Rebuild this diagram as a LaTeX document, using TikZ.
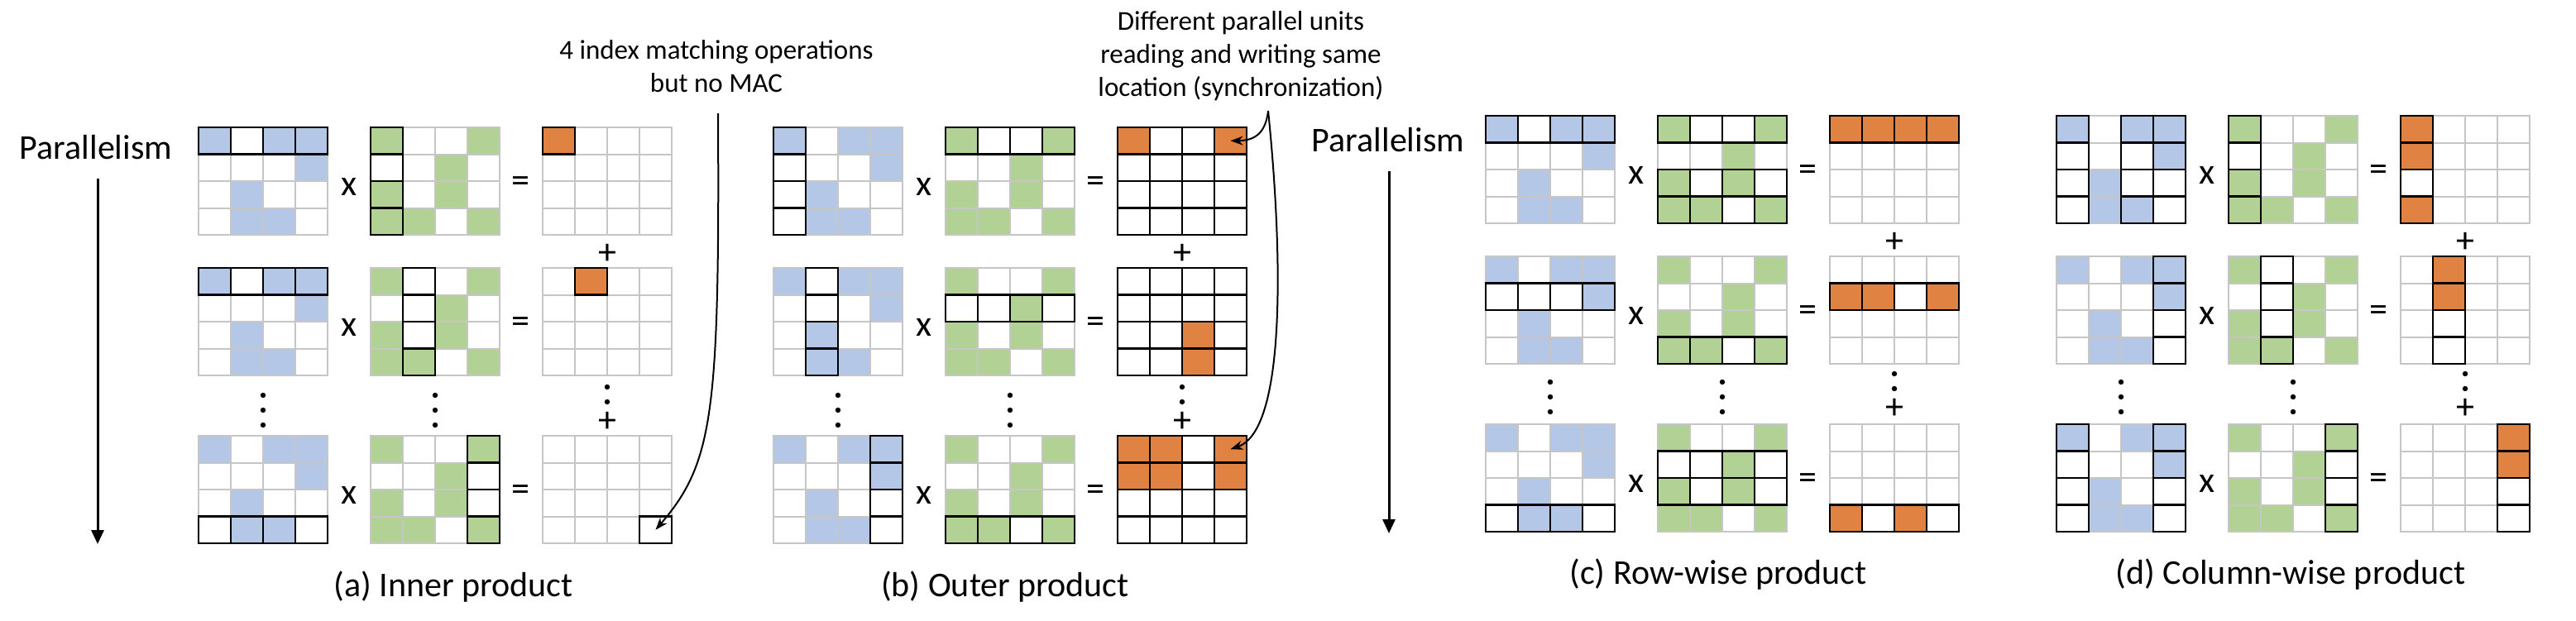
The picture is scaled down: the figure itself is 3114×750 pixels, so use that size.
\documentclass[tikz,border=0pt]{standalone}
\usepackage{fontspec}
\setmainfont{Carlito}
\usetikzlibrary{arrows.meta}

\definecolor{matblue}{RGB}{180,199,231}
\definecolor{matgreen}{RGB}{177,210,148}
\definecolor{matorange}{RGB}{224,131,66}
\definecolor{gridgray}{RGB}{198,198,198}

% nonzero pattern of the two input matrices
\def\Afill{1-1,1-3,1-4,2-4,3-2,4-2,4-3}
\def\Bfill{1-1,1-4,2-3,3-1,3-3,4-1,4-2,4-4}

\newcommand{\cellgrid}[3][cell]{%
	\begin{scope}[shift={#3}]
		\foreach \r in {1,...,4}
			\foreach \c in {1,...,4}
				\node[#1] (#2-\r-\c) at (39*\c-19.5, 32.5*\r-16.25) {};
	\end{scope}
}
\newcommand{\matA}[3]{%
	\cellgrid{#1}{#2}
	\foreach \p in \Afill \node[acell] at (#1-\p) {};
	\foreach \p in {#3} \node[pick] at (#1-\p) {};
}
\newcommand{\matB}[3]{%
	\cellgrid{#1}{#2}
	\foreach \p in \Bfill \node[bcell] at (#1-\p) {};
	\foreach \p in {#3} \node[pick] at (#1-\p) {};
}
\newcommand{\matC}[4][cell]{%
	\cellgrid[#1]{#2}{#3}
	\foreach \p/\s in {#4} \node[\s] at (#2-\p) {};
}
\newcommand{\ops}[3]{%
	\node[op] (#1x) at (#2+182, #3+72) {x};
	\node[op] (#1eq) at (#2+389, #3+69) {=};
}
\newcommand{\dotcol}[3][3]{%
	\foreach \d in {1,...,#1} \fill (#2, #3+18*\d-18) circle (3.2pt);
}

\begin{document}
\begin{tikzpicture}[
	x = 1pt, y = -1pt,
	cell/.style = {draw=gridgray, line width=2pt, minimum width=39pt, minimum height=32.5pt, inner sep=0pt, outer sep=0pt},
	acell/.style = {cell, fill=matblue},
	bcell/.style = {cell, fill=matgreen},
	pick/.style = {cell, draw=black, line width=2.6pt},
	hit/.style = {pick, fill=matorange},
	op/.style = {font=\fontsize{44}{50}\selectfont, inner sep=0pt},
	note/.style = {align=center, font=\fontsize{33}{40}\selectfont},
	caption/.style = {font=\fontsize{42}{50}\selectfont},
	flow/.style = {line width=3pt, -{Triangle[length=17pt, width=15pt]}},
	pointer/.style = {line width=2pt, -{Stealth[length=15pt, width=11pt]}}
	]
	\useasboundingbox (0,0) rectangle (3114,750);
	
	% (a) inner product
	\node[caption] (para) at (116,178) {Parallelism};
	\coordinate (paratop) at (118,216);
	\coordinate (parabot) at (118,658);
	\draw[flow] (paratop) -- (parabot);
	
	\matA{aA1}{(240,154)}{1-1,1-2,1-3,1-4}
	\matB{aB1}{(448,154)}{1-1,2-1,3-1,4-1}
	\matC{aC1}{(656,154)}{1-1/hit}
	\ops{a1}{240}{154}
	\node[op] (aplus1) at (734,307) {+};
	
	\matA{aA2}{(240,324)}{1-1,1-2,1-3,1-4}
	\matB{aB2}{(448,324)}{1-2,2-2,3-2,4-2}
	\matC{aC2}{(656,324)}{1-2/hit}
	\ops{a2}{240}{324}
	
	\dotcol{318}{478}
	\dotcol{526}{478}
	\dotcol[2]{734}{468}
	\node[op] (aplus2) at (734,510) {+};
	
	\matA{aA3}{(240,527)}{4-1,4-2,4-3,4-4}
	\matB{aB3}{(448,527)}{1-4,2-4,3-4,4-4}
	\matC{aC3}{(656,527)}{4-4/pick}
	\ops{a3}{240}{527}
	
	\node[caption] (capa) at (548,710) {(a) Inner product};
	
	% (b) outer product
	\matA{bA1}{(935,154)}{1-1,2-1,3-1,4-1}
	\matB{bB1}{(1143,154)}{1-1,1-2,1-3,1-4}
	\matC[pick]{bC1}{(1351,154)}{1-1/hit,1-4/hit}
	\ops{b1}{935}{154}
	\node[op] (bplus1) at (1429,307) {+};
	
	\matA{bA2}{(935,324)}{1-2,2-2,3-2,4-2}
	\matB{bB2}{(1143,324)}{2-1,2-2,2-3,2-4}
	\matC[pick]{bC2}{(1351,324)}{3-3/hit,4-3/hit}
	\ops{b2}{935}{324}
	
	\dotcol{1013}{478}
	\dotcol{1221}{478}
	\dotcol[2]{1429}{468}
	\node[op] (bplus2) at (1429,510) {+};
	
	\matA{bA3}{(935,527)}{1-4,2-4,3-4,4-4}
	\matB{bB3}{(1143,527)}{4-1,4-2,4-3,4-4}
	\matC[pick]{bC3}{(1351,527)}{1-1/hit,1-2/hit,1-4/hit,2-1/hit,2-2/hit,2-4/hit}
	\ops{b3}{935}{527}
	
	\node[caption] (capb) at (1215,710) {(b) Outer product};
	
	% (c) row-wise product
	\node[caption] (parc) at (1678,169) {Parallelism};
	\coordinate (parctop) at (1679,207);
	\coordinate (parcbot) at (1679,645);
	\draw[flow] (parctop) -- (parcbot);
	
	\matA{cA1}{(1796,140)}{1-1,1-2,1-3,1-4}
	\matB{cB1}{(2004,140)}{1-1,1-2,1-3,1-4,3-1,3-2,3-3,3-4,4-1,4-2,4-3,4-4}
	\matC{cC1}{(2212,140)}{1-1/hit,1-2/hit,1-3/hit,1-4/hit}
	\ops{c1}{1796}{140}
	\node[op] (cplus1) at (2290,293) {+};
	
	\matA{cA2}{(1796,310)}{2-1,2-2,2-3,2-4}
	\matB{cB2}{(2004,310)}{4-1,4-2,4-3,4-4}
	\matC{cC2}{(2212,310)}{2-1/hit,2-2/hit,2-3/pick,2-4/hit}
	\ops{c2}{1796}{310}
	
	\dotcol{1874}{462}
	\dotcol{2082}{462}
	\dotcol[2]{2290}{452}
	\node[op] (cplus2) at (2290,494) {+};
	
	\matA{cA3}{(1796,513)}{4-1,4-2,4-3,4-4}
	\matB{cB3}{(2004,513)}{2-1,2-2,2-3,2-4,3-1,3-2,3-3,3-4}
	\matC{cC3}{(2212,513)}{4-1/hit,4-2/pick,4-3/hit,4-4/pick}
	\ops{c3}{1796}{513}
	
	\node[caption] (capc) at (2077,695) {(c) Row-wise product};
	
	% (d) column-wise product
	\matA{dA1}{(2486,140)}{1-1,2-1,3-1,4-1,1-3,2-3,3-3,4-3,1-4,2-4,3-4,4-4}
	\matB{dB1}{(2694,140)}{1-1,2-1,3-1,4-1}
	\matC{dC1}{(2902,140)}{1-1/hit,2-1/hit,3-1/pick,4-1/hit}
	\ops{d1}{2486}{140}
	\node[op] (dplus1) at (2980,293) {+};
	
	\matA{dA2}{(2486,310)}{1-4,2-4,3-4,4-4}
	\matB{dB2}{(2694,310)}{1-2,2-2,3-2,4-2}
	\matC{dC2}{(2902,310)}{1-2/hit,2-2/hit,3-2/pick,4-2/pick}
	\ops{d2}{2486}{310}
	
	\dotcol{2564}{462}
	\dotcol{2772}{462}
	\dotcol[2]{2980}{452}
	\node[op] (dplus2) at (2980,494) {+};
	
	\matA{dA3}{(2486,513)}{1-1,2-1,3-1,4-1,1-4,2-4,3-4,4-4}
	\matB{dB3}{(2694,513)}{1-4,2-4,3-4,4-4}
	\matC{dC3}{(2902,513)}{1-4/hit,2-4/hit,3-4/pick,4-4/pick}
	\ops{d3}{2486}{513}
	
	\node[caption] (capd) at (2769,695) {(d) Column-wise product};
	
	% notes
	\node[note] (note1) at (866,80) {4 index matching operations\\but no MAC};
	\coordinate (tail1) at (868,137);
	\draw[pointer] (tail1) .. controls (870,500) and (862,560) .. (aC3-4-4.center);
	
	\node[note] (note2) at (1500,68) {Different parallel units\\reading and writing same\\location (synchronization)};
	\coordinate (fork) at (1533,134);
	\draw[pointer] (fork) .. controls (1530,160) and (1518,170) .. (bC1-1-4.center);
	\draw[pointer] (fork) .. controls (1550,300) and (1556,520) .. (bC3-1-4.center);
\end{tikzpicture}
\end{document}
